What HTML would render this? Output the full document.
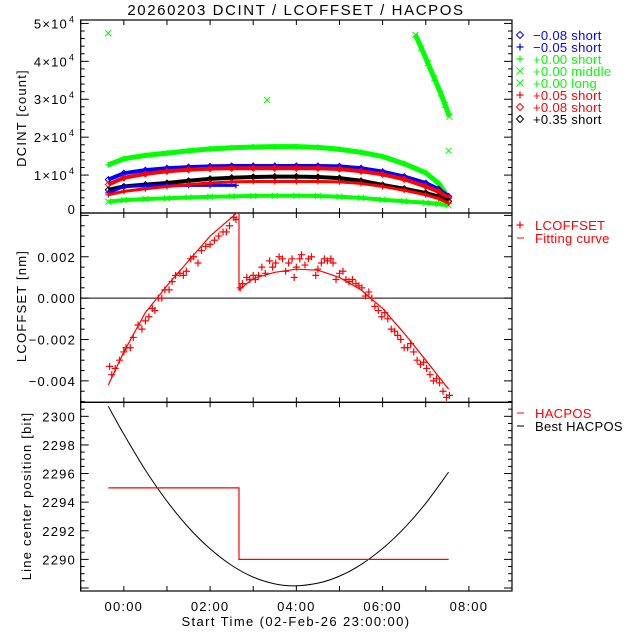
<!DOCTYPE html>
<html><head><meta charset="utf-8"><style>
body{margin:0;background:#fff}
svg{display:block}
text{font-family:"Liberation Sans",sans-serif}
</style></head><body>
<svg id="c" width="640" height="640" viewBox="0 0 640 640"></svg>
<script>
const hours=[-0.36,0,0.5,1,1.5,2,2.5,3,3.5,4,4.5,5,5.5,6,6.5,7,7.3,7.53];
const blueDiamond=[8.8,10.5,11.3,11.8,12.1,12.3,12.4,12.4,12.4,12.4,12.4,12.3,11.8,10.9,9.6,7.9,6.3,4.4];
const blueCross=[5.3,7.0,7.2,7.3,7.3,7.3,7.3];
const greenShort=[12.7,14.3,15.2,15.8,16.4,16.9,17.2,17.4,17.5,17.5,17.3,16.8,16.0,14.9,13.0,10.6,7.8,4.0];
const greenLong=[3.0,3.4,3.7,3.9,4.1,4.3,4.4,4.5,4.55,4.55,4.5,4.3,4.0,3.5,3.1,2.7,2.4,2.0];
const redCross=[4.8,5.7,6.4,7.0,7.5,7.9,8.2,8.3,8.3,8.3,8.3,8.2,7.8,7.0,6.0,4.8,3.8,2.6];
const redDiamond=[7.5,9.3,10.3,11.0,11.4,11.7,11.8,11.8,11.8,11.8,11.8,11.6,11.0,10.2,8.9,7.0,5.6,4.0];
const blackDiamond=[6.1,7.0,7.5,7.9,8.5,9.0,9.3,9.5,9.6,9.6,9.5,9.2,8.5,7.4,6.4,5.3,4.3,3.1];
const midTimes=[-0.36,6.76,6.9,7.05,7.2,7.35,7.45,7.55,3.32,7.53];
const midVals=[47.4,47.0,43.5,39.5,35.5,31.5,28.5,25.4,29.8,16.4];
const offT=[-0.33,-0.28,-0.2,-0.1,0.0,0.05,0.15,0.22,0.33,0.42,0.5,0.58,0.66,0.72,0.8,0.88,0.95,1.05,1.12,1.2,1.3,1.38,1.45,1.55,1.62,1.72,1.8,1.9,2.0,2.1,2.2,2.3,2.38,2.45,2.55,2.6,
2.7,2.75,2.85,2.92,3.0,3.05,3.12,3.2,3.28,3.38,3.45,3.52,3.6,3.68,3.75,3.82,3.9,3.95,4.0,4.08,4.12,4.2,4.28,4.35,4.45,4.5,4.58,4.65,4.72,4.8,4.85,4.92,5.0,5.08,5.15,5.22,5.3,5.38,5.45,5.52,5.6,5.68,5.75,5.82,5.9,5.98,6.05,6.12,6.2,6.28,6.35,6.42,6.5,6.58,6.65,6.72,6.8,6.88,6.95,7.02,7.1,7.18,7.25,7.32,7.4,7.48,7.55];
const offV=[-0.0033,-0.0037,-0.0034,-0.0030,-0.0026,-0.0024,-0.0024,-0.0019,-0.0013,-0.0015,-0.0011,-0.0009,-0.0005,-0.0006,0.0000,0.0000,0.0004,0.0004,0.0008,0.0011,0.0012,0.0011,0.0013,0.0019,0.0020,0.0017,0.0023,0.0025,0.0026,0.0028,0.0030,0.0032,0.0032,0.0035,0.0039,0.0038,
0.0005,0.0007,0.0010,0.0009,0.0011,0.0009,0.0011,0.0015,0.0012,0.0018,0.0015,0.0017,0.0020,0.0019,0.0013,0.0017,0.0019,0.0010,0.0015,0.0019,0.0021,0.0016,0.0019,0.0020,0.0011,0.0014,0.0017,0.0019,0.0018,0.0019,0.0017,0.0009,0.0012,0.0013,0.0009,0.0008,0.0009,0.0007,0.0006,0.0005,0.0001,0.0003,0.0000,-0.0004,-0.0006,-0.0009,-0.0007,-0.0010,-0.0015,-0.0016,-0.0018,-0.0020,-0.0024,-0.0024,-0.0022,-0.0026,-0.0030,-0.0032,-0.0031,-0.0034,-0.0037,-0.0040,-0.0039,-0.0041,-0.0045,-0.0048,-0.0047];
const fit1T=[-0.36,0,0.5,1,1.5,2,2.5,2.67];
const fit1V=[-0.0042,-0.0026,-0.0007,0.0006,0.0018,0.0030,0.0039,0.0042];
const fit2T=[2.67,3.0,3.5,4.0,4.5,5.0,5.5,6.0,6.5,7.0,7.53];
const fit2V=[0.0004,0.00095,0.00125,0.0014,0.00135,0.0010,0.0004,-0.0005,-0.0017,-0.0030,-0.0044];
const hacT=[-0.36,2.67,2.67,7.53];
const hacV=[2295,2295,2290,2290];
const bestT=[-0.36,0,0.5,1,1.5,2,2.5,3,3.5,3.95,4.5,5,5.5,6,6.5,7,7.53];
const bestV=[2300.7,2298.75,2296.24,2294.07,2292.23,2290.74,2289.58,2288.76,2288.29,2288.15,2288.34,2288.83,2289.64,2290.76,2292.18,2293.92,2296.1];
const xTicks=[0,2,4,6,8];
const xTickLabels=["00:00","02:00","04:00","06:00","08:00"];

const svg=document.getElementById('c');const NS='http://www.w3.org/2000/svg';
function el(t,a,p){const e=document.createElementNS(NS,t);for(const k in a)e.setAttribute(k,a[k]);(p||svg).appendChild(e);return e;}
const L=80.7,R=512;
const X=t=>L+(t+1)/10*(R-L);
const P1={top:20,bot:213,min:0,max:50.9};
const P2={top:213,bot:402.3,min:-0.005036,max:0.004116};
const P3={top:402.3,bot:591,min:2287.79,max:2300.98};
const Y=(p,v)=>p.bot-(v-p.min)/(p.max-p.min)*(p.bot-p.top);
function txt(s,x,y,o,ls){const t=el('text',Object.assign({x:x,y:y,'font-size':13,fill:'#000'},o||{}));t.style.letterSpacing=(ls===undefined?1.2:ls)+'px';t.textContent=s;return t;}
function clip(id,p){const c=el('clipPath',{id:id});el('rect',{x:L,y:p.top,width:R-L,height:p.bot-p.top},c);}
clip('c1',P1);clip('c2',P2);clip('c3',P3);

function frame(p,name,minStep,majStep){
  const g=el('g',{});
  
  
  el('rect',{x:L,y:p.top,width:R-L,height:p.bot-p.top,fill:'none',stroke:'#000','stroke-width':1.2},g);
  for(let h=-1;h<=9;h++){const x=X(h);el('line',{x1:x,x2:x,y1:p.bot,y2:p.bot-5,stroke:'#000'},g);el('line',{x1:x,x2:x,y1:p.top,y2:p.top+5,stroke:'#000'},g);}
  for(let v=Math.ceil(p.min/minStep)*minStep;v<=p.max;v+=minStep){const y=Y(p,v);const maj=Math.abs(v/majStep-Math.round(v/majStep))<1e-6;const l=maj?8:4;
    el('line',{x1:L,x2:L+l,y1:y,y2:y,stroke:'#000'},g);el('line',{x1:R,x2:R-l,y1:y,y2:y,stroke:'#000'},g);}
  return g;
}
frame(P1,'dcint-panel',2,10);frame(P2,'lcoffset-panel',0.0005,0.002);frame(P3,'hacpos-panel',0.5,2);

let t=txt('20260203 DCINT / LCOFFSET / HACPOS',296,15,{'text-anchor':'middle','font-size':15},1.6);

t=txt('DCINT [count]',0,0,{'text-anchor':'middle',transform:'translate(26,118) rotate(-90)'});

t=txt('LCOFFSET [nm]',0,0,{'text-anchor':'middle',transform:'translate(26,306) rotate(-90)'});

t=txt('Line center position [bit]',0,0,{'text-anchor':'middle',transform:'translate(31,496) rotate(-90)'});

t=txt('Start Time (02-Feb-26 23:00:00)',296,626,{'text-anchor':'middle'},1.4);

xTicks.forEach((h,i)=>{const e=txt(xTickLabels[i],X(h),611,{'text-anchor':'middle'});});
[0,1,2,3,4,5].forEach(k=>{const y=Y(P1,k*10)+5;let e;
  if(k===0){e=txt('0',76,Math.min(y,214),{'text-anchor':'end'});}
  else{e=txt(k+'×10',68,y,{'text-anchor':'end'});const s=txt('4',69,y-6,{'font-size':9});}
  });
[0.002,0,-0.002,-0.004].forEach(v=>{const s=(v<0?'−':'')+Math.abs(v).toFixed(3);const e=txt(s,76,Y(P2,v)+5,{'text-anchor':'end'});});
[2300,2298,2296,2294,2292,2290].forEach(v=>{const e=txt(String(v),76,Y(P3,v)+5,{'text-anchor':'end'});});

function mark(g,type,x,y,col,s){s=s||3;
  if(type==='+'){el('path',{d:`M${x-s},${y}H${x+s}M${x},${y-s}V${y+s}`,stroke:col,fill:'none','stroke-width':1.2},g);}
  else if(type==='x'){el('path',{d:`M${x-s},${y-s}L${x+s},${y+s}M${x-s},${y+s}L${x+s},${y-s}`,stroke:col,fill:'none'},g);}
  else {el('path',{d:`M${x-s},${y}L${x},${y-s}L${x+s},${y}L${x},${y+s}Z`,stroke:col,fill:'none'},g);}
}
function band(name,ts,vs,col,type,w){
  const g=el('g',{'clip-path':'url(#c1)'});
  
  
  el('polyline',{points:vs.map((v,i)=>X(ts[i])+','+Y(P1,v)).join(' '),fill:'none',stroke:col,'stroke-width':w,'stroke-linejoin':'round'},g);
  vs.forEach((v,i)=>mark(g,type,X(ts[i]),Y(P1,v),col));
}
band('series-p000-long',hours,greenLong,'#00ff00','x',4);
band('series-p000-short',hours,greenShort,'#00ff00','+',5);
band('series-m008-short',hours,blueDiamond,'#0000ff','d',4);
band('series-p008-short',hours,redDiamond,'#ff0000','d',4);
band('series-p035-short',hours,blackDiamond,'#000000','d',4);
band('series-m005-short',hours.slice(0,blueCross.length).map((h,i)=>i===blueCross.length-1?2.6:h),blueCross,'#0000ff','+',3);
band('series-p005-short',hours,redCross,'#ff0000','+',3);
{const g=el('g',{'clip-path':'url(#c1)'});


el('polyline',{points:midTimes.slice(1,8).map((tt,i)=>X(tt)+','+Y(P1,midVals[i+1])).join(' '),fill:'none',stroke:'#00ff00','stroke-width':5},g);
midTimes.forEach((tt,i)=>mark(g,'x',X(tt),Y(P1,midVals[i]),'#00ff00'));}

el('line',{x1:L,x2:R,y1:Y(P2,0),y2:Y(P2,0),stroke:'#000'});
{const g=el('g',{'clip-path':'url(#c2)'});


const pts=fit1T.map((tt,i)=>X(tt)+','+Y(P2,fit1V[i])).concat(fit2T.map((tt,i)=>X(tt)+','+Y(P2,fit2V[i])));
el('polyline',{points:pts.join(' '),fill:'none',stroke:'#ff0000','stroke-width':1.2},g);
const g2=el('g',{'clip-path':'url(#c2)'});


offT.forEach((tt,i)=>mark(g2,'+',X(tt),Y(P2,offV[i]),'#ff0000',3.5));}

{const g=el('g',{'clip-path':'url(#c3)'});


const px=bestT.map(X),py=bestV.map(v=>Y(P3,v));
let d='M'+px[0]+','+py[0];
for(let i=0;i<px.length-1;i++){const p0=i?i-1:i,p3=i+2<px.length?i+2:i+1;
 d+=`C${px[i]+(px[i+1]-px[p0])/6},${py[i]+(py[i+1]-py[p0])/6} ${px[i+1]-(px[p3]-px[i])/6},${py[i+1]-(py[p3]-py[i])/6} ${px[i+1]},${py[i+1]}`;}
el('path',{d:d,fill:'none',stroke:'#000','stroke-width':1},g);
const h=el('polyline',{points:hacT.map((tt,i)=>X(tt)+','+Y(P3,hacV[i])).join(' '),fill:'none',stroke:'#ff0000','stroke-width':1.2},g);
}

const legSyms=['d','+','+','x','x','+','d','d'];
const legCols=['#0000ff','#0000ff','#00ff00','#00ff00','#00ff00','#ff0000','#ff0000','#000000'];
const legTxt=['−0.08 short','−0.05 short','+0.00 short','+0.00 middle','+0.00 long','+0.05 short','+0.08 short','+0.35 short'];
legTxt.forEach((s,i)=>{const y=35+i*12;const g=el('g',{});
 
 
 mark(g,legSyms[i],520,y,legCols[i],3.5);
 g.appendChild(txt(s,533,y+5,{fill:legCols[i]},0.3));});
function leg(name,sym,s,y,col){const g=el('g',{});
 
 
 if(sym==='+')mark(g,'+',520,y,col,3.5);else el('line',{x1:517,x2:524,y1:y,y2:y,stroke:col},g);
 g.appendChild(txt(s,535,y+5,{fill:col},0.3));}
leg('legend-lcoffset','+','LCOFFSET',225,'#ff0000');
leg('legend-fitting-curve','-','Fitting curve',238,'#ff0000');
leg('legend-hacpos','-','HACPOS',413,'#ff0000');
leg('legend-best-hacpos','-','Best HACPOS',426,'#000000');
</script>
</body></html>
